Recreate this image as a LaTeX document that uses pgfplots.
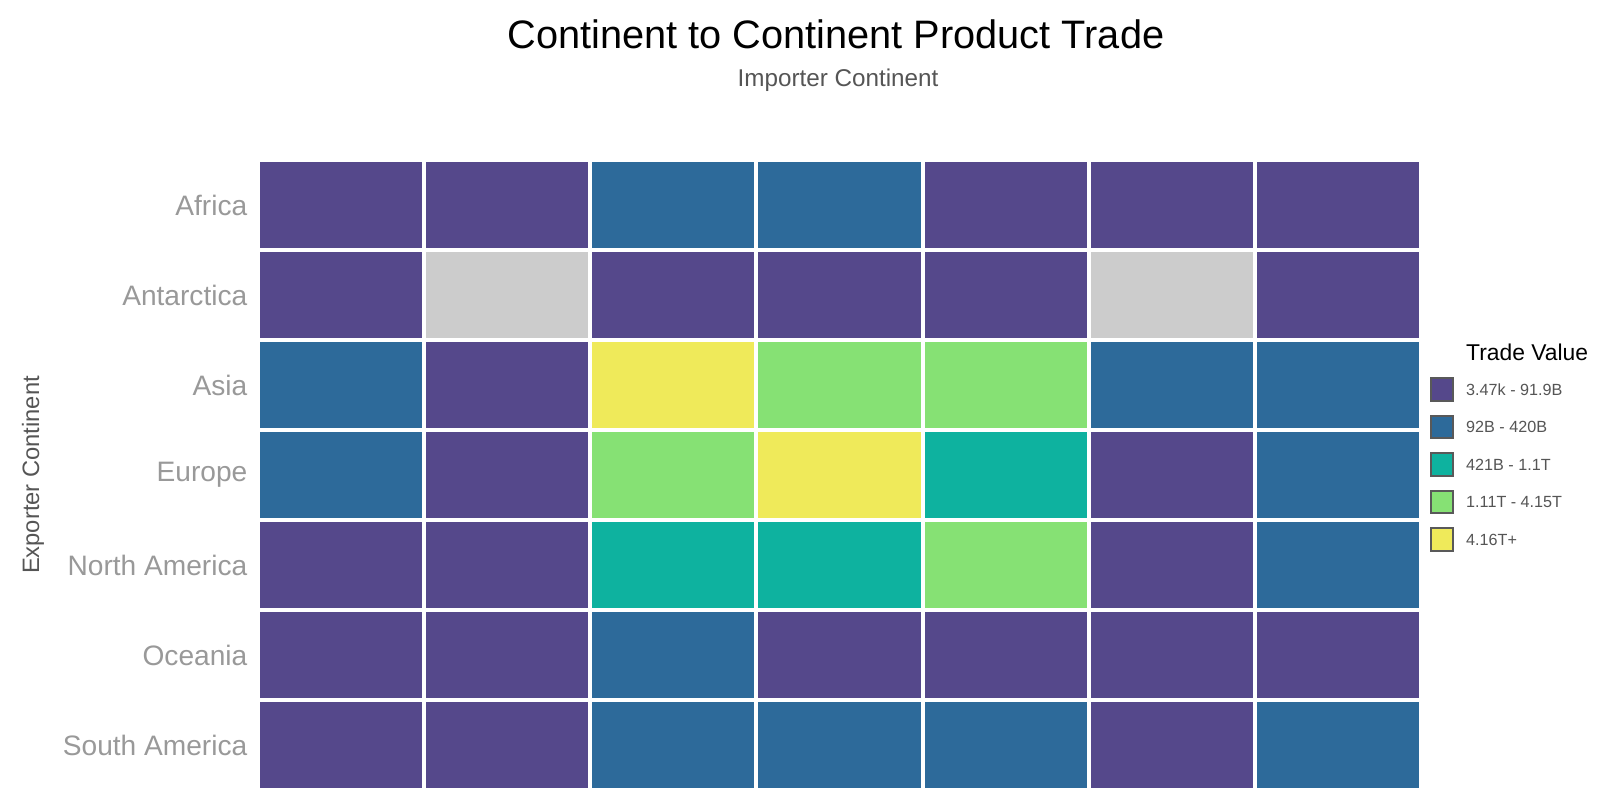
\documentclass[border=0pt]{standalone}
\usepackage{pgfplots}
\pgfplotsset{compat=1.18}
\usepackage{fontspec}
\setmainfont{Liberation Sans}
\definecolor{cPur}{HTML}{55488B}
\definecolor{cBlu}{HTML}{2D6A9A}
\definecolor{cTea}{HTML}{0EB29F}
\definecolor{cGrn}{HTML}{86E174}
\definecolor{cYel}{HTML}{EFEA5A}
\definecolor{cNA}{HTML}{CCCCCC}
\definecolor{tgrey}{HTML}{999999}
\definecolor{dgrey}{HTML}{555555}
\pgfplotsset{
  sw/.style={legend image code/.code={\draw[fill=#1,draw=black!65,line width=0.2mm] (0mm,-1.1mm) rectangle (2.25mm,1.15mm);}}
}
\begin{document}
\begin{tikzpicture}
\useasboundingbox (0,0) rectangle (160mm,80mm);
\begin{axis}[
  at={(25.8mm,1.0mm)}, anchor=south west,
  scale only axis, width=116.3mm, height=63.0mm,
  xmin=-0.5, xmax=6.5, ymin=-0.5, ymax=6.5,
  axis line style={draw=none},
  xtick=\empty,
  ytick={0,1,2,3,4,5,6},
  yticklabels={South America,Oceania,North America,Europe,Asia,Antarctica,Africa},
  major tick length=0pt,
  yticklabel style={font=\fontsize{8pt}{9.6pt}\selectfont, text=tgrey, inner sep=0pt, xshift=-1.0mm},
  colormap={cat}{color=(cNA) color=(cPur) color=(cBlu) color=(cTea) color=(cGrn) color=(cYel)},
  colormap access=direct,
  legend cell align=left,
  legend style={at={(rel axis cs:1.0069,0.7095)}, anchor=north west, draw=none, inner sep=0pt,
    row sep=1.3mm, column sep=1.2mm,
    nodes={inner sep=0pt, text height=1.7mm, text depth=0.55mm, font=\fontsize{4.6pt}{5.5pt}\selectfont, text=dgrey}},
]
\addplot[matrix plot*, mesh/cols=7, point meta=explicit, draw=white, line width=0.4mm, forget plot] table[meta=c] {
x y c
0 0 1
1 0 1
2 0 2
3 0 2
4 0 2
5 0 1
6 0 2
0 1 1
1 1 1
2 1 2
3 1 1
4 1 1
5 1 1
6 1 1
0 2 1
1 2 1
2 2 3
3 2 3
4 2 4
5 2 1
6 2 2
0 3 2
1 3 1
2 3 4
3 3 5
4 3 3
5 3 1
6 3 2
0 4 2
1 4 1
2 4 5
3 4 4
4 4 4
5 4 2
6 4 2
0 5 1
1 5 0
2 5 1
3 5 1
4 5 1
5 5 0
6 5 1
0 6 1
1 6 1
2 6 2
3 6 2
4 6 1
5 6 1
6 6 1
};
\addlegendimage{empty legend}
\addlegendentry[text depth=0.35mm]{\textcolor{black}{\fontsize{6.5pt}{7.8pt}\selectfont Trade Value}}
\addlegendimage{sw=cPur}
\addlegendentry{3.47k - 91.9B}
\addlegendimage{sw=cBlu}
\addlegendentry{92B - 420B}
\addlegendimage{sw=cTea}
\addlegendentry{421B - 1.1T}
\addlegendimage{sw=cGrn}
\addlegendentry{1.11T - 4.15T}
\addlegendimage{sw=cYel}
\addlegendentry{4.16T+}
\end{axis}
\node[font=\fontsize{11.3pt}{13.5pt}\selectfont] at (83.6mm,76.6mm) {Continent to Continent Product Trade};
\node[font=\fontsize{6.9pt}{8.3pt}\selectfont, text=dgrey] at (83.8mm,72.0mm) {Importer Continent};
\node[font=\fontsize{6.75pt}{8.1pt}\selectfont, text=dgrey, rotate=90] at (3.3mm,32.5mm) {Exporter Continent};
\end{tikzpicture}
\end{document}
